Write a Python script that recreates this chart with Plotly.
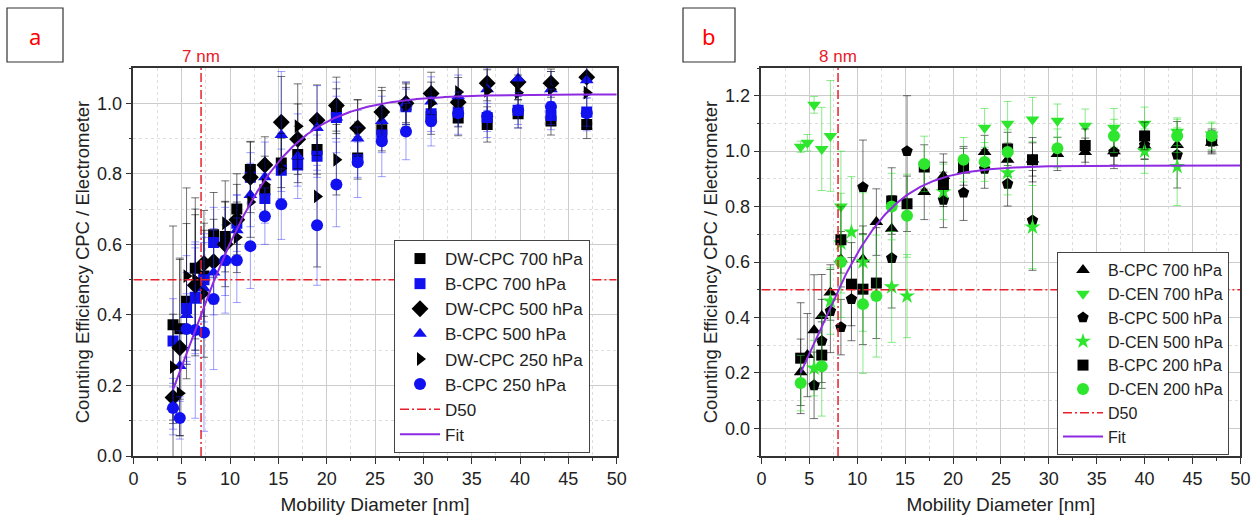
import numpy as np
import plotly.graph_objects as go

W, H = 1254, 520

# ---------------- Panel a data ----------------
XA = [4.1, 4.8, 5.5, 6.4, 7.3, 8.3, 9.5, 10.7, 12.1, 13.6, 15.3, 17.0, 19.0, 21.0,
      23.2, 25.7, 28.2, 30.8, 33.6, 36.6, 39.8, 43.2, 46.9]
A_DW700 = [0.372, 0.361, 0.439, 0.532, 0.51, 0.627, 0.622, 0.70, 0.812, 0.755, 0.831, 0.855,
           0.869, 0.981, 0.845, 0.925, 0.995, 0.962, 0.958, 0.94, 0.97, 0.95, 0.94]
E_DW700 = [0.28, 0.2, 0.22, 0.2, 0.15, 0.12, 0.1, 0.1, 0.08, 0.08, 0.07, 0.08, 0.07, 0.06,
           0.06, 0.06, 0.05, 0.05, 0.05, 0.05, 0.04, 0.04, 0.04]
A_B700 = [0.326, None, 0.418, 0.45, 0.50, 0.605, None, 0.66, 0.79, 0.73, 0.81, 0.825, 0.85,
          0.96, 0.84, 0.91, 0.99, 0.97, 0.975, 0.96, 0.98, 0.965, 0.975]
E_B700 = [0.12, None, 0.15, 0.15, 0.12, 0.1, None, 0.08, 0.07, 0.07, 0.06, 0.06, 0.06, 0.06,
          0.05, 0.05, 0.05, 0.05, 0.04, 0.04, 0.04, 0.04, 0.04]
A_DW500 = [0.166, 0.307, None, 0.484, 0.546, 0.551, 0.60, 0.67, 0.79, 0.825, 0.946, 0.898,
           0.952, 0.994, 0.93, 0.975, 1.0, 1.028, 1.003, 1.057, 1.06, 1.057, 1.074]
E_DW500 = [0.2, 0.25, None, 0.2, 0.15, 0.12, 0.12, 0.1, 0.1, 0.08, 0.13, 0.1, 0.1, 0.08,
           0.08, 0.07, 0.06, 0.06, 0.07, 0.05, 0.05, 0.04, 0.04]
A_B500 = [0.14, 0.255, 0.40, 0.44, 0.475, 0.52, 0.555, 0.64, 0.74, 0.79, 0.91, 0.85, 0.93,
          0.96, 0.90, 0.95, 1.0, 1.005, 1.02, 1.04, 1.07, 1.04, 1.065]
E_B500 = [0.08, 0.1, 0.12, 0.15, 0.13, 0.12, 0.1, 0.1, 0.09, 0.1, 0.18, 0.12, 0.12, 0.1,
          0.08, 0.07, 0.06, 0.07, 0.06, 0.06, 0.05, 0.05, 0.05]
A_DW250 = [0.252, 0.178, 0.51, 0.50, 0.46, None, 0.66, 0.62, 0.72, 0.77, 0.815, 0.935,
           0.736, 0.84, 0.93, 0.966, 0.995, 1.0, 1.032, 1.035, 1.03, 1.04, 1.03]
E_DW250 = [0.15, 0.12, 0.25, 0.2, 0.18, None, 0.12, 0.1, 0.1, 0.08, 0.1, 0.12, 0.2, 0.1,
           0.08, 0.07, 0.06, 0.06, 0.08, 0.06, 0.05, 0.05, 0.05]
A_B250 = [0.136, 0.108, 0.36, 0.357, 0.35, 0.445, 0.555, 0.555, 0.595, 0.68, 0.714, None,
          0.654, 0.77, 0.833, 0.892, 0.92, 0.949, 0.972, 0.963, 0.98, 0.99, 0.972]
E_B250 = [0.06, 0.06, 0.1, 0.25, 0.28, 0.2, 0.15, 0.12, 0.12, 0.08, 0.1, None, 0.17, 0.12,
          0.1, 0.1, 0.08, 0.07, 0.06, 0.06, 0.05, 0.05, 0.05]

# Fit (Boltzmann sigmoid) parameters, panel a
FA = dict(A1=-0.5, A2=1.025, x0=5.1, dx=5.1, xmin=4.1)
D50_A = 7.0

# ---------------- Panel b data ----------------
XB = [4.1, 4.8, 5.5, 6.3, 7.2, 8.3, 9.4, 10.6, 12.0, 13.6, 15.2, 17.0, 19.0, 21.1, 23.3,
      25.7, 28.3, 30.9, 33.8, 36.8, 40.0, 43.4, 47.0]
B_B700 = [0.202, 0.264, 0.354, 0.405, 0.49, 0.61, None, 0.61, 0.744, 0.72, None, 0.853, 0.91,
          0.93, 0.997, 0.969, 0.97, 0.99, 0.997, 1.0, 1.02, 1.022, 1.03]
EB_B700 = [0.12, 0.15, 0.2, 0.15, 0.1, 0.1, None, 0.12, 0.12, 0.12, None, 0.1, 0.08, 0.08,
           0.06, 0.06, 0.06, 0.06, 0.05, 0.05, 0.05, 0.05, 0.04]
B_D700 = [1.016, 1.03, 1.167, 1.008, 1.055, 0.80, None, None, None, None, None, None, None,
          None, 1.084, 1.099, 1.114, 1.11, 1.092, 1.084, 1.099, 1.07, 1.06]
EB_D700 = [0.02, 0.03, 0.03, 0.15, 0.2, 0.2, None, None, None, None, None, None, None,
           None, 0.07, 0.08, 0.08, 0.06, 0.06, 0.07, 0.06, 0.05, 0.04]
B_B500 = [None, None, 0.155, 0.315, 0.423, 0.365, 0.466, 0.87, None, 0.614, 1.0, None, 0.824,
          0.85, 0.936, 0.882, 0.75, None, None, 0.997, 1.022, 0.987, 1.034]
EB_B500 = [None, None, 0.12, 0.15, 0.15, 0.1, 0.15, 0.17, None, 0.18, 0.2, None, 0.1, 0.1,
           0.07, 0.08, 0.18, None, None, 0.06, 0.05, 0.12, 0.04]
B_D500 = [None, None, 0.217, None, 0.459, 0.668, 0.708, 0.60, None, 0.51, 0.477, None, 0.853,
          None, None, 0.922, 0.726, None, None, None, 1.0, 0.944, None]
EB_D500 = [None, None, 0.1, None, 0.12, 0.18, 0.2, 0.25, None, 0.2, 0.15, None, 0.1, None,
           None, 0.08, 0.15, None, None, None, 0.08, 0.14, None]
B_B200 = [0.253, None, None, 0.264, None, 0.68, 0.52, 0.502, 0.524, 0.82, 0.81, 0.943, 0.88,
          0.947, None, 1.008, 0.969, None, 1.02, None, 1.055, None, 1.04]
EB_B200 = [0.2, None, None, 0.12, None, 0.12, 0.15, 0.2, 0.2, 0.12, 0.1, 0.08, 0.08, 0.07,
           None, 0.06, 0.08, None, 0.06, None, 0.05, None, 0.04]
B_D200 = [0.163, None, None, 0.224, None, 0.60, None, 0.448, 0.477, 0.80, 0.767, 0.954, None,
          0.969, 0.961, 0.997, None, 1.01, None, 1.055, None, 1.055, 1.055]
EB_D200 = [0.1, None, None, 0.18, None, 0.2, None, 0.25, 0.22, 0.12, 0.15, 0.1, None, 0.08,
           0.07, 0.08, None, 0.07, None, 0.06, None, 0.06, 0.05]

FB = dict(A1=-0.3, A2=0.948, x0=5.7, dx=4.0, xmin=4.1)
D50_B = 8.0

# ---------------- styling ----------------
FONT = "Liberation Sans, Arial, sans-serif"
BLACK = "#000000"
BLUE = "#1010F0"
GREEN = "#2EE62E"
RED = "#E8202A"
PURPLE = "#8E2BE2"
TXT = "#222222"

fig = go.Figure()


def add_series(x, y, e, name, symbol, color, ecolor, size, xa, ya, legend):
    fig.add_trace(go.Scatter(
        x=x, y=y, mode="markers", name=name, xaxis=xa, yaxis=ya, legend=legend,
        marker=dict(symbol=symbol, color=color, size=size, line=dict(width=0)),
        error_y=dict(type="data", array=e, visible=True, color=ecolor,
                     thickness=1, width=4),
    ))


def boltz(p, xmax=50.0):
    xs = np.linspace(p["xmin"], xmax, 400)
    ys = p["A2"] + (p["A1"] - p["A2"]) / (1 + np.exp((xs - p["x0"]) / p["dx"]))
    return xs, ys


EK = "rgba(0,0,0,0.55)"
EBL = "rgba(40,40,255,0.45)"
EG = "rgba(40,220,40,0.55)"

# Panel a
add_series(XA, A_DW700, E_DW700, "DW-CPC 700 hPa", "square", BLACK, EK, 11, "x", "y", "legend")
add_series(XA, A_B700, E_B700, "B-CPC 700 hPa", "square", BLUE, EBL, 11, "x", "y", "legend")
add_series(XA, A_DW500, E_DW500, "DW-CPC 500 hPa", "diamond", BLACK, EK, 13, "x", "y", "legend")
add_series(XA, A_B500, E_B500, "B-CPC 500 hPa", "triangle-up", BLUE, EBL, 12, "x", "y", "legend")
add_series(XA, A_DW250, E_DW250, "DW-CPC 250 hPa", "triangle-right", BLACK, EK, 12, "x", "y", "legend")
add_series(XA, A_B250, E_B250, "B-CPC 250 hPa", "circle", BLUE, EBL, 12, "x", "y", "legend")

fig.add_trace(go.Scatter(
    x=[D50_A, D50_A, None, 0, 50], y=[0, 1.1, None, 0.5, 0.5], mode="lines", name="D50",
    xaxis="x", yaxis="y", legend="legend",
    line=dict(color=RED, width=1.5, dash="9px,3px,2px,3px")))
xa_fit, ya_fit = boltz(FA)
fig.add_trace(go.Scatter(x=xa_fit, y=ya_fit, mode="lines", name="Fit", xaxis="x", yaxis="y",
                         legend="legend", line=dict(color=PURPLE, width=2)))

# Panel b
add_series(XB, B_B700, EB_B700, "B-CPC 700 hPa", "triangle-up", BLACK, EK, 12, "x2", "y2", "legend2")
add_series(XB, B_D700, EB_D700, "D-CEN 700 hPa", "triangle-down", GREEN, EG, 12, "x2", "y2", "legend2")
add_series(XB, B_B500, EB_B500, "B-CPC 500 hPa", "pentagon", BLACK, EK, 12, "x2", "y2", "legend2")
add_series(XB, B_D500, EB_D500, "D-CEN 500 hPa", "star", GREEN, EG, 12, "x2", "y2", "legend2")
add_series(XB, B_B200, EB_B200, "B-CPC 200 hPa", "square", BLACK, EK, 11, "x2", "y2", "legend2")
add_series(XB, B_D200, EB_D200, "D-CEN 200 hPa", "circle", GREEN, EG, 12, "x2", "y2", "legend2")

fig.add_trace(go.Scatter(
    x=[D50_B, D50_B, None, 0, 50], y=[-0.1, 1.3, None, 0.5, 0.5], mode="lines", name="D50",
    xaxis="x2", yaxis="y2", legend="legend2",
    line=dict(color=RED, width=1.5, dash="9px,3px,2px,3px")))
xb_fit, yb_fit = boltz(FB)
fig.add_trace(go.Scatter(x=xb_fit, y=yb_fit, mode="lines", name="Fit", xaxis="x2", yaxis="y2",
                         legend="legend2", line=dict(color=PURPLE, width=2)))


def xaxis_style(domain, anchor):
    return dict(
        domain=domain, anchor=anchor, range=[0, 50], tick0=0, dtick=5,
        showline=True, linecolor="#333", linewidth=1.5, mirror=True,
        ticks="outside", ticklen=6, tickwidth=1.2, tickcolor="#333",
        showgrid=True, gridcolor="#cccccc", gridwidth=1, zeroline=False,
        minor=dict(dtick=2.5, ticks="outside", ticklen=3, tickcolor="#333",
                   showgrid=True, gridcolor="#dddddd", griddash="dot"),
        tickfont=dict(family=FONT, size=18, color=TXT),
        title=dict(text="Mobility Diameter [nm]", font=dict(family=FONT, size=19, color=TXT),
                   standoff=9),
        automargin=False,
    )


def yaxis_style(domain, anchor, rng):
    return dict(
        domain=domain, anchor=anchor, range=rng, tick0=0, dtick=0.2, tickformat=".1f",
        showline=True, linecolor="#333", linewidth=1.5, mirror=True,
        ticks="outside", ticklen=6, tickwidth=1.2, tickcolor="#333",
        showgrid=True, gridcolor="#cccccc", gridwidth=1, zeroline=False,
        minor=dict(dtick=0.1, ticks="outside", ticklen=3, tickcolor="#333",
                   showgrid=True, gridcolor="#dddddd", griddash="dot"),
        tickfont=dict(family=FONT, size=18, color=TXT),
        title=dict(text="Counting Efficiency CPC / Electrometer",
                   font=dict(family=FONT, size=18.5, color=TXT), standoff=3),
        automargin=False,
    )


ydom = [1 - 456 / H, 1 - 68 / H]
legend_common = dict(xanchor="left", yanchor="top", bgcolor="white", bordercolor="#444",
                     borderwidth=1, tracegroupgap=0, itemwidth=40)

fig.update_layout(
    width=W, height=H, margin=dict(l=0, r=0, t=0, b=0, autoexpand=False),
    paper_bgcolor="white", plot_bgcolor="white",
    xaxis=xaxis_style([133.4 / W, 616.7 / W], "y"),
    yaxis=yaxis_style(ydom, "x", [0, 1.1]),
    xaxis2=xaxis_style([761.4 / W, 1240.4 / W], "y2"),
    yaxis2=yaxis_style(ydom, "x2", [-0.1, 1.3]),
    legend=dict(x=394 / W, y=1 - 240 / H, font=dict(family=FONT, size=17, color=TXT),
                **legend_common),
    legend2=dict(x=1057 / W, y=1 - 252 / H, font=dict(family=FONT, size=16, color=TXT),
                 **legend_common),
    shapes=[
        dict(type="rect", xref="paper", yref="paper", x0=7 / W, x1=63 / W,
             y0=1 - 62 / H, y1=1 - 8 / H, line=dict(color="#333", width=1.2)),
        dict(type="rect", xref="paper", yref="paper", x0=683 / W, x1=735 / W,
             y0=1 - 62 / H, y1=1 - 8 / H, line=dict(color="#333", width=1.2)),
    ],
    annotations=[
        dict(text="a", xref="paper", yref="paper", x=35 / W, y=1 - 36 / H, showarrow=False,
             xanchor="center", yanchor="middle",
             font=dict(family="Noto Sans", size=22, color="red")),
        dict(text="b", xref="paper", yref="paper", x=709 / W, y=1 - 36 / H, showarrow=False,
             xanchor="center", yanchor="middle",
             font=dict(family="Noto Sans", size=22, color="red")),
        dict(text="7 nm", xref="x", yref="paper", x=D50_A, y=1 - 56 / H, showarrow=False,
             xanchor="center", yanchor="middle",
             font=dict(family=FONT, size=17, color=RED)),
        dict(text="8 nm", xref="x2", yref="paper", x=D50_B, y=1 - 56 / H, showarrow=False,
             xanchor="center", yanchor="middle",
             font=dict(family=FONT, size=17, color=RED)),
    ],
)

fig.write_html("out.html", config={"displayModeBar": False},
               post_script="document.body.style.margin='0';document.body.style.overflow='hidden';")
